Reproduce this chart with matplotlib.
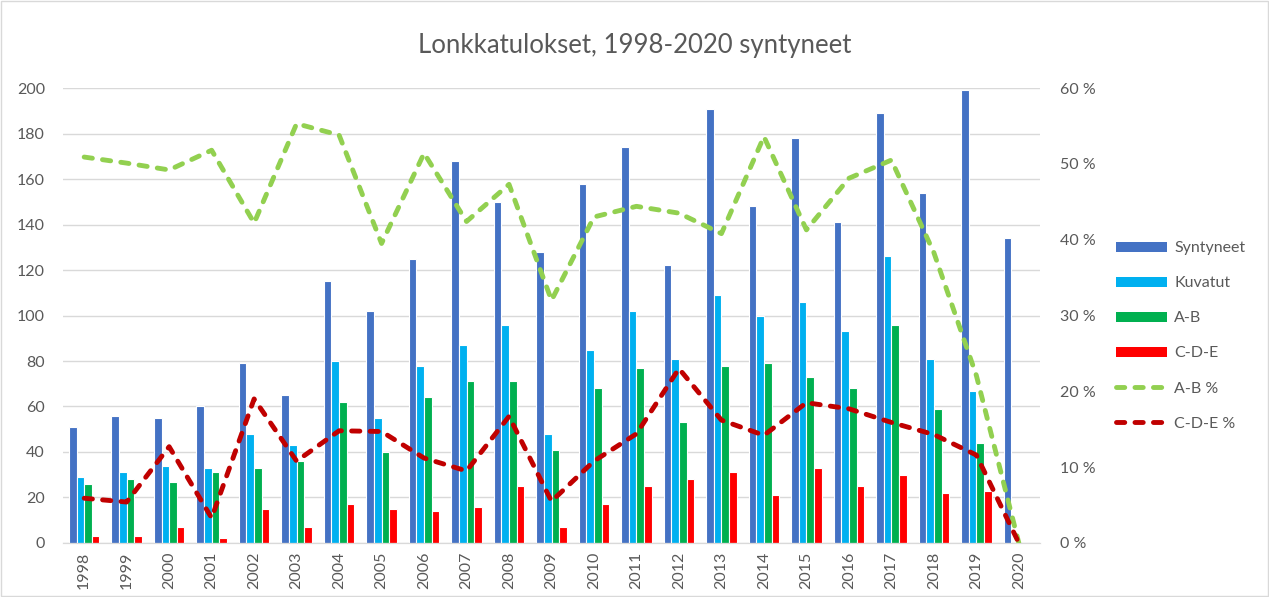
import numpy as np
import matplotlib.pyplot as plt
from matplotlib.patches import Patch, Rectangle
from matplotlib.lines import Line2D

plt.rcParams['font.family'] = ['Lato', 'DejaVu Sans']

# ---------------------------------------------------------
# Data
# ---------------------------------------------------------
years = ['1998', '1999', '2000', '2001', '2002', '2003', '2004', '2005',
         '2006', '2007', '2008', '2009', '2010', '2011', '2012', '2013',
         '2014', '2015', '2016', '2017', '2018', '2019', '2020']
syntyneet = [51, 56, 55, 60, 79, 65, 115, 102, 125, 168, 150, 128,
             158, 174, 122, 191, 148, 178, 141, 189, 154, 199, 134]
kuvatut = [29, 31, 34, 33, 48, 43, 80, 55, 78, 87, 96, 48,
           85, 102, 81, 109, 100, 106, 93, 126, 81, 67, 0]
ab = [26, 28, 27, 31, 33, 36, 62, 40, 64, 71, 71, 41,
      68, 77, 53, 78, 79, 73, 68, 96, 59, 44, 0]
cde = [3, 3, 7, 2, 15, 7, 17, 15, 14, 16, 25, 7,
       17, 25, 28, 31, 21, 33, 25, 30, 22, 23, 0]
ab_pct = [0.509, 0.501, 0.492, 0.518, 0.422, 0.553, 0.538, 0.395,
          0.514, 0.424, 0.473, 0.320, 0.430, 0.444, 0.435, 0.408,
          0.536, 0.413, 0.481, 0.505, 0.383, 0.221, 0.0]
cde_pct = [0.059, 0.054, 0.127, 0.033, 0.190, 0.108, 0.148, 0.147,
           0.112, 0.095, 0.167, 0.055, 0.108, 0.144, 0.230, 0.162,
           0.142, 0.185, 0.177, 0.159, 0.143, 0.116, 0.0]

bar_series = [('Syntyneet', syntyneet, '#4472c4'),
              ('Kuvatut', kuvatut, '#00b0f0'),
              ('A-B', ab, '#00b050'),
              ('C-D-E', cde, '#ff0000')]
line_series = [('A-B %', ab_pct, '#92d050'),
               ('C-D-E %', cde_pct, '#c00000')]

grey = '#595959'
dash = (0, (1.7, 2.1))

fig = plt.figure(figsize=(12.69, 5.97), dpi=100)
ax = fig.add_axes([0.0496, 0.0905, 0.77, 0.762])
ax2 = ax.twinx()

x = np.arange(len(years))
w = 0.18
for k, (name, vals, col) in enumerate(bar_series):
    ax.bar(x + (k - 1.5) * w, vals, width=w, color=col,
           edgecolor='white', linewidth=0.8, zorder=2)

for name, vals, col in line_series:
    ax2.plot(x, vals, color=col, linewidth=3.5, linestyle=dash,
             dash_capstyle='round', dash_joinstyle='round', zorder=3)

ax.set_xlim(-0.5, len(years) - 0.5)
ax.set_ylim(0, 200)
ax.set_yticks(np.arange(0, 201, 20))
ax2.set_ylim(0, 0.6)
ax2.set_yticks(np.arange(0, 0.61, 0.1))
ax2.set_yticklabels([f'{int(round(v * 100))} %' for v in np.arange(0, 0.61, 0.1)])

ax.set_xticks(x)
ax.set_xticklabels(years, rotation=90)

ax.grid(axis='y', color='#d9d9d9', linewidth=1.0, zorder=0)
ax.set_axisbelow(True)
for a in (ax, ax2):
    for s in ('top', 'left', 'right'):
        a.spines[s].set_visible(False)
    a.spines['bottom'].set_color('#d9d9d9')
    a.tick_params(length=0, colors=grey, labelsize=11.5)
ax.tick_params(axis='y', pad=13)
ax2.tick_params(axis='y', pad=14)
ax.tick_params(axis='x', pad=6)
ax2.set_zorder(ax.get_zorder() + 1)
ax2.patch.set_visible(False)

fig.suptitle('Lonkkatulokset, 1998-2020 syntyneet', y=0.945, fontsize=18.5,
             color=grey)

handles = [Patch(facecolor=c, edgecolor='none', label=n) for n, _, c in bar_series]
handles += [Line2D([0], [0], color=c, lw=3.5, linestyle=dash,
                   dash_capstyle='round', label=n)
            for n, _, c in line_series]
fig.legend(handles=handles, loc='upper left', bbox_to_anchor=(0.868, 0.62),
           frameon=False, fontsize=11.5, labelcolor=grey, labelspacing=1.32,
           handlelength=3.2, handleheight=0.6, handletextpad=0.45)

fig.patches.append(Rectangle((0.001, 0.001), 0.998, 0.998, transform=fig.transFigure,
                             fill=False, edgecolor='#d9d9d9', linewidth=1))

plt.savefig('out.png', dpi=100)
